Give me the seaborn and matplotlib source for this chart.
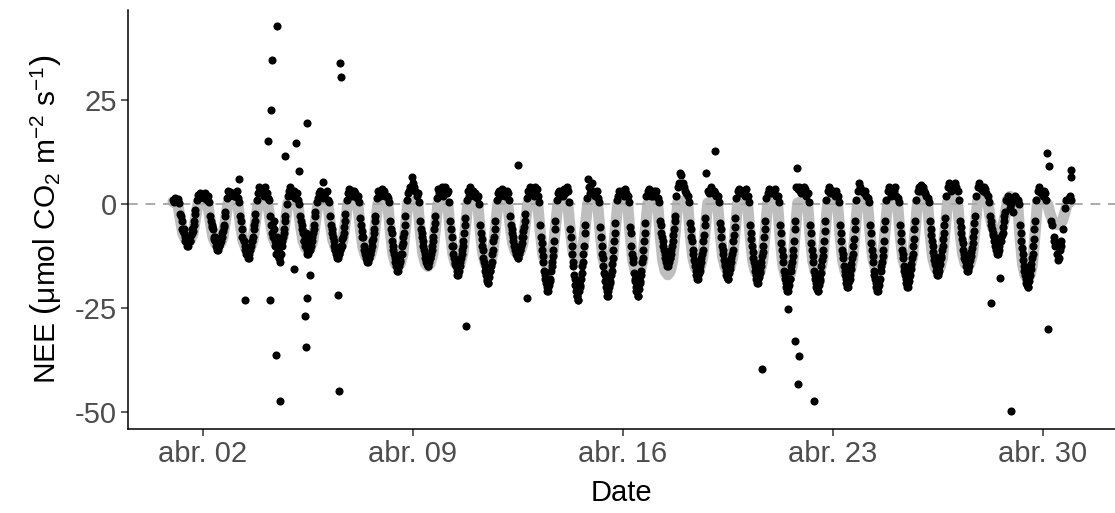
import numpy as np
import pandas as pd
import matplotlib
matplotlib.use("Agg")
import matplotlib.pyplot as plt
import matplotlib.dates as mdates
from matplotlib.ticker import FixedLocator
import seaborn as sns

nan = np.nan
START = pd.Timestamp("2023-04-01")

# measured NEE, hourly values (0..23 h), one row per day of April
nee_obs_hourly = [
    [1, 0.5, 1.5, 0.8, 1.2, 0.3, -2.5, -4, -6.5, -7, -9, -9.5, -10, -8.5, -8.8, -7, -6.5, -4, -1.5, 1, 2.2, 1.5, 2.5, 2],
    [2, 1.5, 2.5, 1, 2, 0.5, -3, -5.5, -6, -8.5, -9, -10.5, -11, -10, -9.5, -8, -6.5, -5, -2, 1.5, 3, 2, 2.8, 2.2],
    [2.5, 1.8, 2, 3, 1.5, 0.5, -3, -6, nan, -9, -11, -12, -13, -12, nan, -9, -8, -5, -2.5, 1, 2.5, 4, 3, 2.5],
    [3, 2, 4, 2.5, 1.5, 1, -3, -5, -8, -6, -10, -12, -11, -13, -14, -10, -8, -6, -3, 0, 2, 3, 4, 3],
    [2, 3, 1.5, 2.5, 1, 0, -3, -5, -7, -9, -8, -11, -12, -10, -11, -9, -7, -5, -2, 0.5, 1.5, 2.5, 3, 2],
    [1.5, 2, 2.5, 3, 1, 0.5, -3, -6, -8, -10, -11, -12.5, -13, -12, -11, -10, -8, -5.5, -2.5, 1, 2.5, 3.5, 2, 3],
    [2, 3, 2.5, 1.5, 2, 0.5, -3.5, -6.5, -8, -11, -12, -13.5, -14, -13, -12, -10, -8.5, -6, -3, 1.5, 3, 2.5, 2, 3.5],
    [2.5, 3, 2, 2, 1.5, 0.5, -4, -7, -10, -12, -14, -15, -16, -15, -13.5, -12, -9.5, -7, -3, 1, 2.5, 3, 4, 6.5],
    [5, 4, 3, 2, 2.5, 0.5, -4, -7, -9, -11, -13, -14.5, -15, -14, -13, -11, -9, -6, -3, 1.5, 3.5, 2.5, 3, 4],
    [2, 3, 4, 2.5, 3, 0.5, -4, -8, -10, -13, -14.5, -16, -17, -16, -14, -12, -10, -7, -3.5, 1, 3, 2, 4, 3],
    [3, 2, 2.5, 1.5, 2, 0, -5, -8.5, -11, -14, -16, -18, -19, -17.5, -16, -14, -11, -8, -4, 1, 2.5, 3, 2, 3.5],
    [2.5, 3, 2, 3, 2.5, 1, -3, -6, -8, -10, -11, -12, -13, -12, -11, -9.5, -8, -5.5, -2.5, 1.5, 3, 2.5, 4, 3],
    [3, 2, 4, 3.5, 2, 0.5, -5, -9.5, -12.5, -16, -18, -20, -21, -19.5, -18, -15, -12.5, -9, -4, 1, 2.5, 3, 2, 3],
    [2, 3.5, 2.5, 4, 3, 0.5, -6, -10, -14, -17, -19.5, -22, -23, -21, -19.5, -16.5, -14, -10, -5, 1.5, 6, 4, 2.5, 5],
    [3, 2.5, 2, 3, 1.5, 0.5, -5.5, -10, -13, -16.5, -18.5, -21, -22, -20, -18.5, -16, -13, -9, -4.5, 1, 2, 3, 2.5, 3],
    [3, 2, 3.5, 2.5, 2, 0.5, -5.5, -10, -13, -16.5, -18.5, -21, -22, -20.5, -18.5, -16, -13, -9, -4.5, 2, 3, 3.5, 2.5, 2],
    [2, 3, 2.5, 3, 1.5, 0.5, -4, -7, -9, -11, -13, -14, -15, -14, -13, -11, -9, -6, -3, 2, 4, 5, 7.5, 7],
    [5, 4, 3, 2.5, 2, 0.5, -4.5, -8, -11, -13.5, -15, -17, -18, -16.5, -15, -13, -11, -7.5, -3.5, 7.5, 3, 2.5, 3, 4],
    [2.5, 3, 2.5, 2, 2, 0.5, -4.5, -8, -11, -13.5, -15, -17, -18, -16.5, -15, -13, -11, -7.5, -3.5, 1.5, 3, 3.5, 2.5, 3],
    [2.5, 3, 2, 3.5, 2, 0.5, -5, -8.5, -11.5, -14, -16, -18, -19, -17.5, -16, -14, -11.5, -8, -4, 1.5, 2.5, 3.5, 3, 2.5],
    [3, 2.5, 3.5, 2, 2, 0.5, -5, -9.5, -12.5, -16, -18, -20, -21, -19.5, -18, -15, -12.5, -9, -4, 4, 3.5, 4, 3, 2.5],
    [3, 4, 3.5, 2, 2.5, 0.5, -5, -9.5, -12.5, -16, -18, -20, -21, -19.5, -18, -15, -12.5, -9, -4, 1, 3, 4, 2.5, 3],
    [3, 2.5, 2, 3, 2, 0.5, -5, -9, -12, -15, -17, -19, -20, -18.5, -17, -14.5, -12, -8.5, -4, 1, 3, 5, 4, 3],
    [3, 2.5, 3, 2, 1.5, 0.5, -5, -9.5, -12.5, -16, -18, -20, -21, -19.5, -18, -15, -12.5, -9, -4, 1, 3, 4, 3.5, 2],
    [2.5, 3, 4, 2, 1.5, 0.5, -5, -9, -12, -15, -17, -19, -20, -18.5, -17, -14.5, -12, -8.5, -4, 1, 3, 4, 3, 4.5],
    [4, 3, 2.5, 2, 1.5, 0.5, -4, -7.5, -10, -12.5, -14.5, -16, -17, -16, -14.5, -12.5, -10, -7, -3.5, 2, 4, 5, 4.5, 3],
    [3.5, 4.5, 5, 4, 3, 1, -4, -7, -9.5, -12, -13.5, -15, -16, -15, -13.5, -11.5, -9.5, -6.5, -3, 2, 4, 5, 4, 3.5],
    [3, 4, 3.5, 2.5, 2, 0.5, -3, -5, -7, -8, -10, -11, -12, -11, -17.7, -8, -7, -4, -2, 1, 2, 0.5, -1, 0],
    [-2, 1, 2, 1.5, 1, 0, -5, -9, -12, -15, -17, -19, -20, -18.5, -17, -14.5, -12, -8.5, -4, 1, 3, 4, 3, 2.5],
    [2, 3, 2.5, 1, nan, nan, nan, -4, nan, -8, -10, nan, nan, -13, -11, -9, nan, nan, -1, 1, nan, 1.5, 2, 1],
]

# measured NEE at the daytime half hours (6:30, 7:30, ..., 17:30)
nee_obs_halfhour = [
    [-3, -6, -6, -8, -8.5, -10, -9, -9, -7.5, -6, -5, -2.5],
    [-4, -5, -8, -8, -10, -11, -10, -9, -9, -7, -5.5, -3],
    [-4, -8, -9, -10, -12, -11, -13, -11, -10, -9, -6, -4],
    [-5, -7, -4, -9, -12, -8, -13, -10, -12, -9, -7, -4],
    [-4, -6, -9, -10, -7, -12, -11, -9, -10, -8, -6, -3],
    [-5, -7, -9, -11, -12, -13, -12, -11, -10, -8.5, -7, -4],
    [-5, -8, -10, -11, -13, -14, -13, -12, -11, -9, -7, -4],
    [-6, -9, -11, -13, -15, -16, -14.5, -14, -12, -10, -8, -5],
    [-6, -8, -10, -12, -14, -13, -15, -13, -12, -10, -8, -4.5],
    [-6, -10, -12, -14, -15, -17, -16, -15, -13, -11, -9, -5],
    [-7, -10, -13, -15, -17, -18.5, -19, -16, -15, -12, -9, -6],
    [-5, -7, -9, -10, -12, -12.5, -13, -11, -10, -8, -6.5, -4],
    [-8, -11, -14, -17, -19, -21, -20, -18.5, -16, -14, -11, -6],
    [-8, -12, -15, -18, -21, -22, -23, -20, -18, -15, -12, -7],
    [-8, -12, -15, -17, -20, -22, -21, -19, -17, -14.5, -11, -7],
    [-7, -12, -14, -18, -20, -21, -22, -19, -17, -14, -11, -7],
    [-5, -8, -10, -12, -13, -15, -14, -13, -12, -10, -7.5, -4],
    [-6, -9, -12, -14, -16, -18, -17, -16, -14, -12, -9, -5],
    [-6, -10, -12, -14.5, -16, -17.5, -18, -15.5, -14, -12, -9, -5.5],
    [-7, -10, -13, -15, -17, -19, -18, -16.5, -15, -12.5, -10, -6],
    [-7, -11, -14, -17, -19, -21, -20, -18, -16, -14, -11, -6],
    [-7, -11, -14, -17, -19, -20.5, -21, -18.5, -16.5, -13.5, -11, -6.5],
    [-7, -11, -13, -16, -18, -20, -19, -18, -15.5, -13, -10, -6],
    [-7, -11, -14, -17, -19, -21, -20, -18.5, -16, -14, -11, -6],
    [-7, -11, -13, -16, -18, -20, -19, -17.5, -15.5, -13, -10, -6],
    [-6, -9, -11.5, -13.5, -15, -17, -16.5, -15, -13, -11, -8.5, -5],
    [-5.5, -8.5, -11, -13, -14, -16, -15.5, -14, -12.5, -10.5, -8, -4.5],
    [-4, -6, -7.5, -9, -10, -12, -11.5, -10, -9, -7.5, -5.5, -3],
    [-7, -10.5, -13.5, -16, -18, -19.5, -20, -17.5, -15.5, -13, -10, -6],
    [nan, -5, nan, -9, nan, -12, -13.5, nan, -10, nan, -6, nan],
]

# isolated spikes in the measured series
spike_day = [3, 3, 4, 4, 4, 4, 4, 4, 4, 4,
             5, 5, 5, 5, 5, 5, 5, 5,
             6, 6, 6, 6, 6, 10, 12, 12, 19, 20,
             21, 21, 21, 21, 21, 22, 28, 28,
             30, 30, 30, 30, 30]
spike_hour = [9.6, 4.5, 11.2, 7.2, 6.4, 4.0, 5.6, 10.4, 13.6, 17.8,
              2.4, 4.8, 0.8, 11.2, 13.6, 11.0, 9.6, 10.4,
              0.0, 13.6, 14.4, 12.0, 12.8, 18.8, 12.0, 19.2, 1.6, 15.2,
              12.0, 17.6, 20.8, 20.0, 19.2, 8.8, 6.4, 22.4,
              3.2, 4.8, 4.0, 22.4, 23.0]
spike_value = [-23.0, 6.0, 42.6, 34.6, 22.5, 15.2, -23.0, -36.3, -47.2, 11.6,
               14.5, 8.0, -15.7, 19.4, -17.0, -22.5, -27.0, -34.4,
               5.3, 33.9, 30.5, -21.8, -44.8, -29.3, 9.4, -22.5, 12.6, -39.7,
               -25.2, -32.9, -36.5, -43.3, 8.5, -47.2, -23.7, -49.6,
               12.1, 9.0, -30.0, 8.2, 6.4]

# gap-filled NEE, values every 2 h (0, 2, ..., 22 h)
nee_fit_2h = [
    [0.5, 0.2, -0.3, -4.0, -7.2, -8.6, -9.0, -8.6, -7.2, -3.6, 0.0, 0.3],
    [0.3, 0.0, -0.3, -4.5, -8.0, -9.5, -10.0, -9.5, -8.0, -4.0, 0.1, 0.4],
    [0.2, 0.3, -0.2, -5.0, -8.8, -10.5, -11.0, -10.5, -8.8, -4.4, 0.0, 0.2],
    [0.4, 0.2, -0.3, -4.5, -8.0, -9.5, -10.0, -9.5, -8.0, -4.0, 0.2, 0.3],
    [0.3, 0.1, -0.3, -5.0, -8.8, -10.5, -11.0, -10.5, -8.8, -4.4, 0.0, 0.3],
    [0.2, 0.3, -0.2, -5.0, -8.8, -10.5, -11.0, -10.5, -8.8, -4.4, 0.1, 0.2],
    [0.4, 0.2, -0.3, -5.9, -10.4, -12.4, -13.0, -12.4, -10.4, -5.2, 0.0, 0.3],
    [0.3, 0.1, -0.3, -6.8, -12.0, -14.3, -15.0, -14.3, -12.0, -6.0, 0.2, 0.4],
    [0.5, 0.3, -0.2, -6.8, -12.0, -14.3, -15.0, -14.3, -12.0, -6.0, 0.0, 0.3],
    [0.2, 0.3, -0.3, -6.8, -12.0, -14.3, -15.0, -14.3, -12.0, -6.0, 0.1, 0.3],
    [0.3, 0.2, -0.2, -6.8, -12.0, -14.3, -15.0, -14.3, -12.0, -6.0, 0.0, 0.2],
    [0.4, 0.2, -0.3, -5.4, -9.6, -11.4, -12.0, -11.4, -9.6, -4.8, 0.1, 0.3],
    [0.3, 0.1, -0.3, -6.8, -12.0, -14.3, -15.0, -14.3, -12.0, -6.0, 0.0, 0.3],
    [0.2, 0.3, -0.2, -6.3, -11.2, -13.3, -14.0, -13.3, -11.2, -5.6, 0.2, 0.4],
    [0.4, 0.2, -0.3, -7.2, -12.8, -15.2, -16.0, -15.2, -12.8, -6.4, 0.0, 0.3],
    [0.3, 0.2, -0.3, -7.7, -13.6, -16.2, -17.0, -16.2, -13.6, -6.8, 0.1, 0.3],
    [0.5, 0.3, -0.2, -7.7, -13.6, -16.2, -17.0, -16.2, -13.6, -6.8, 0.3, 0.6],
    [0.6, 0.4, -0.2, -7.2, -12.8, -15.2, -16.0, -15.2, -12.8, -6.4, 0.2, 0.4],
    [0.4, 0.3, -0.3, -7.2, -12.8, -15.2, -16.0, -15.2, -12.8, -6.4, 0.1, 0.3],
    [0.3, 0.2, -0.3, -7.7, -13.6, -16.2, -17.0, -16.2, -13.6, -6.8, 0.0, 0.3],
    [0.4, 0.2, -0.3, -8.1, -14.4, -17.1, -18.0, -17.1, -14.4, -7.2, 0.2, 0.4],
    [0.3, 0.2, -0.3, -7.7, -13.6, -16.2, -17.0, -16.2, -13.6, -6.8, 0.1, 0.3],
    [0.4, 0.3, -0.2, -7.7, -13.6, -16.2, -17.0, -16.2, -13.6, -6.8, 0.2, 0.5],
    [0.5, 0.3, -0.2, -7.2, -12.8, -15.2, -16.0, -15.2, -12.8, -6.4, 0.3, 0.6],
    [0.6, 0.4, -0.1, -7.2, -12.8, -15.2, -16.0, -15.2, -12.8, -6.4, 0.4, 0.8],
    [0.9, 0.6, 0.0, -7.2, -12.8, -15.2, -16.0, -15.2, -12.8, -6.4, 0.5, 1.0],
    [1.2, 1.0, 0.3, -6.8, -12.0, -14.3, -15.0, -14.3, -12.0, -6.0, 0.6, 1.2],
    [1.5, 1.4, 0.8, -3.2, -5.6, -6.7, -7.0, -6.7, -5.6, -2.8, 1.0, 1.8],
    [1.5, 1.2, 0.3, -8.1, -14.4, -17.1, -18.0, -17.1, -14.4, -7.2, 0.5, 0.8],
    [0.6, 0.4, 0.0, -2.3, -4.0, -4.8, -5.0, -4.8, -4.0, -2.0, 0.2, 0.5],
]

tick_days = [2, 9, 16, 23, 30]
Y_TICKS = [-50, -25, 0, 25]


def stamp(day, hour):
    return START + pd.Timedelta(days=day - 1) + pd.Timedelta(hours=hour)


obs_rows = []
for d, row in enumerate(nee_obs_hourly, start=1):
    for h, v in enumerate(row):
        obs_rows.append((stamp(d, h), v))
for d, row in enumerate(nee_obs_halfhour, start=1):
    for i, v in enumerate(row):
        obs_rows.append((stamp(d, 6.5 + i), v))
for d, h, v in zip(spike_day, spike_hour, spike_value):
    obs_rows.append((stamp(d, h), v))
obs = pd.DataFrame(obs_rows, columns=["Date", "NEE"]).dropna()

fit_rows = []
for d, row in enumerate(nee_fit_2h, start=1):
    for i, v in enumerate(row):
        fit_rows.append((stamp(d, 2 * i), v))
fit = pd.DataFrame(fit_rows, columns=["Date", "NEE"])

sns.set_style("ticks")
plt.rcParams["font.family"] = ["Liberation Sans", "DejaVu Sans"]
plt.rcParams["mathtext.fontset"] = "custom"
plt.rcParams["mathtext.rm"] = "Liberation Sans"
plt.rcParams["mathtext.it"] = "Liberation Sans:italic"
plt.rcParams["axes.unicode_minus"] = False

fig = plt.figure(figsize=(11.15, 5.13), dpi=100)
ax = fig.add_axes([0.1148, 0.1637, 0.8852, 0.8168])

sns.lineplot(data=fit, x="Date", y="NEE", color="#bebebe", linewidth=8,
             ax=ax, zorder=1)
ax.axhline(0, color="#aaaaaa", linewidth=1.4, dashes=(5, 4), zorder=2)
sns.scatterplot(data=obs, x="Date", y="NEE", color="black", s=34,
                linewidth=0, ax=ax, zorder=3)

ax.set_xlim(mdates.date2num(START - pd.Timedelta(hours=36)),
            mdates.date2num(START + pd.Timedelta(days=30, hours=34)))
ax.set_ylim(-54.0, 46.5)
ax.set_yticks(Y_TICKS)
ax.xaxis.set_major_locator(FixedLocator(
    [mdates.date2num(stamp(d, 0)) for d in tick_days]))
ax.xaxis.set_major_formatter(mdates.DateFormatter("abr. %d"))

sns.despine(ax=ax)
for side in ["left", "bottom"]:
    ax.spines[side].set_color("black")
    ax.spines[side].set_linewidth(1.1)
ax.tick_params(axis="both", labelsize=21, labelcolor="#4d4d4d",
               color="#333333", length=5, width=1.1, pad=3)

ax.set_xlabel("Date", fontsize=21, color="black", labelpad=8)
ax.set_ylabel(r"NEE $\left(\mathrm{\mu mol\ CO_2\ m^{-2}\ s^{-1}}\right)$",
              fontsize=21.5, color="black", labelpad=8)

fig.savefig("out.png", dpi=100)
